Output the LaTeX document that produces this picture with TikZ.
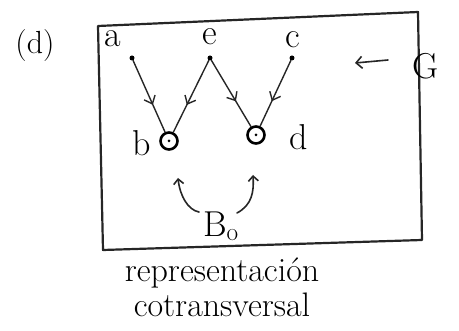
\documentclass[tikz,border=0pt]{standalone}
\usepackage{fontspec}
\usetikzlibrary{arrows.meta,decorations.markings}
\begin{document}
\begin{tikzpicture}[x=1pt,y=-1pt,
  ink/.style={draw=black!85,line cap=round,line join=round},
  vdot/.style={circle,fill=black,inner sep=0pt,minimum size=5pt},
  vring/.style={circle,draw=black,line width=2.6pt,inner sep=0pt,minimum size=17pt},
  lbl/.style={font=\fontsize{36}{40}\selectfont,inner sep=0pt},
  midarrow/.style={ink,line width=1.4pt,postaction={decorate},
    decoration={markings,mark=at position 0.62 with {\arrow{Straight Barb[length=7pt,width=12pt,line width=1.4pt]}}}}
]
\useasboundingbox (0,0) rectangle (459,331);
% frame
\coordinate (p1) at (98,26);
\coordinate (p2) at (418,12);
\coordinate (p3) at (422,240);
\coordinate (p4) at (103,250);
\draw[ink,line width=2.2pt] (p1) -- (p2) -- (p3) -- (p4) -- cycle;
% vertices
\node[vdot] (a) at (132,58) {};
\node[vdot] (e) at (210,58) {};
\node[vdot] (c) at (292,58) {};
\node[vring] (b) at (169,141) {};
\node[vring] (d) at (256,135) {};
\fill (b.center) circle (1.5pt);
\fill (d.center) circle (1.5pt);
% labels
\node[lbl] (la) at (113,39) {a};
\node[lbl] (le) at (210,37) {e};
\node[lbl] (lc) at (293,40) {c};
\node[lbl] (lb) at (142,143) {b};
\node[lbl] (ld) at (299,137) {d};
% edges
\draw[midarrow] (a) -- (b);
\draw[midarrow] (e) -- (b);
\draw[midarrow] (e) -- (d);
\draw[midarrow] (c) -- (d);
% G
\node[lbl,font=\fontsize{36}{40}\selectfont] (G) at (426,66) {G};
\coordinate (gs) at (388,60);
\coordinate (ge) at (355,63);
\draw[ink,line width=1.6pt,-{Straight Barb[length=6pt,width=12pt,line width=1.6pt]}] (gs) -- (ge);
% B0
\node[lbl,font=\fontsize{36}{40}\selectfont] (B) at (221,226) {B$_{\mathrm o}$};
\coordinate (B1) at (199,212);
\coordinate (B2) at (237,213);
\draw[ink,line width=1.6pt,-{Straight Barb[length=5pt,width=10pt,line width=1.6pt]}] (B1) .. controls (188,210) and (180,196) .. (178,178);
\draw[ink,line width=1.6pt,-{Straight Barb[length=5pt,width=10pt,line width=1.6pt]}] (B2) .. controls (252,205) and (254,192) .. (253,175);
% (d)
\node[lbl,font=\fontsize{32}{36}\selectfont] (tag) at (35,46) {(d)};
% caption
\node[lbl,font=\fontsize{34}{38}\selectfont] (cap1) at (222,273) {representación};
\node[lbl,font=\fontsize{34}{38}\selectfont] (cap2) at (222,305) {cotransversal};
\end{tikzpicture}
\end{document}
